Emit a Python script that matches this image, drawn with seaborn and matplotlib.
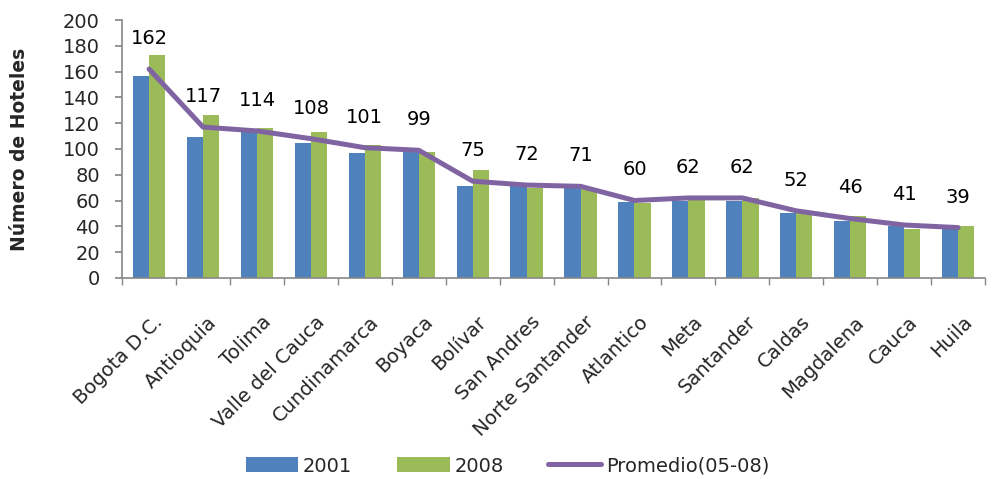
import matplotlib
matplotlib.use("Agg")
import matplotlib.pyplot as plt
from matplotlib.lines import Line2D
from matplotlib.patches import Patch
from matplotlib.transforms import ScaledTranslation
import numpy as np
import pandas as pd
import seaborn as sns

departamentos = ["Bogota D.C.", "Antioquia", "Tolima", "Valle del Cauca", "Cundinamarca",
                 "Boyaca", "Bolívar", "San Andres", "Norte Santander", "Atlantico",
                 "Meta", "Santander", "Caldas", "Magdalena", "Cauca", "Huila"]
hoteles_2001 = [157, 109, 113, 105, 97, 99, 71, 72, 72, 59, 60, 60, 50, 44, 40, 38]
hoteles_2008 = [173, 126, 116, 113, 103, 98, 84, 70, 69, 58, 61, 62, 52, 48, 38, 40]
promedio_05_08 = [162, 117, 114, 108, 101, 99, 75, 72, 71, 60, 62, 62, 52, 46, 41, 39]

AZUL = "#4F81BD"
VERDE = "#9BBB59"
MORADO = "#8064A2"
GRIS = "#888888"
FS = 14

sns.set_theme(style="white")
plt.rcParams["font.family"] = ["DejaVu Sans"]

df = pd.DataFrame({
    "Departamento": departamentos * 2,
    "Hoteles": hoteles_2001 + hoteles_2008,
    "Año": ["2001"] * len(departamentos) + ["2008"] * len(departamentos),
})

fig = plt.figure(figsize=(9.93, 4.79), dpi=100)
ax = fig.add_axes([0.123, 0.42, 0.869, 0.538])

sns.barplot(data=df, x="Departamento", y="Hoteles", hue="Año",
            palette=[AZUL, VERDE], width=0.6, gap=0, saturation=1,
            edgecolor="none", legend=False, ax=ax)

x_pos = np.arange(len(departamentos))
sns.lineplot(x=x_pos, y=promedio_05_08, color=MORADO, linewidth=3.6,
             solid_capstyle="round", solid_joinstyle="round", ax=ax)

for xi, v in zip(x_pos, promedio_05_08):
    ax.annotate(f"{v}", (xi, v), xytext=(0, 22), textcoords="offset points",
                ha="center", va="center", fontsize=FS, color="black")

ax.set_xlim(-0.5, len(departamentos) - 0.5)
ax.set_ylim(0, 200)
ax.set_yticks(range(0, 201, 20))
ax.tick_params(axis="y", labelsize=FS, length=5, direction="out", color=GRIS,
               left=True, pad=11)
ax.set_xticks(x_pos)
ax.set_xticklabels(departamentos, rotation=45, ha="right", rotation_mode="anchor",
                   fontsize=FS)
ax.tick_params(axis="x", length=0, pad=25)
shift = ScaledTranslation(3 / 72, 0, fig.dpi_scale_trans)
for lbl in ax.get_xticklabels():
    lbl.set_transform(lbl.get_transform() + shift)
ax.set_xticks(np.arange(-0.5, len(departamentos), 1), minor=True)
ax.tick_params(axis="x", which="minor", length=5, direction="out", color=GRIS,
               bottom=True)
ax.set_xlabel("")
ax.set_ylabel("Número de Hoteles", fontsize=13.5, fontweight="bold")
ax.yaxis.set_label_coords(-0.108, 0.5)

for s in ["top", "right"]:
    ax.spines[s].set_visible(False)
for s in ["left", "bottom"]:
    ax.spines[s].set_color(GRIS)
    ax.spines[s].set_linewidth(1.2)

handles = [Patch(facecolor=AZUL, edgecolor="none"),
           Patch(facecolor=VERDE, edgecolor="none"),
           Line2D([0], [0], color=MORADO, linewidth=3.6, solid_capstyle="round")]
fig.legend(handles, ["2001", "2008", "Promedio(05-08)"], loc="center",
           bbox_to_anchor=(0.511, 0.027), ncol=3, frameon=False, fontsize=FS,
           handlelength=2.7, handleheight=0.8, columnspacing=2.3, handletextpad=0.25,
           borderpad=0)

fig.savefig("out.png", dpi=100)
